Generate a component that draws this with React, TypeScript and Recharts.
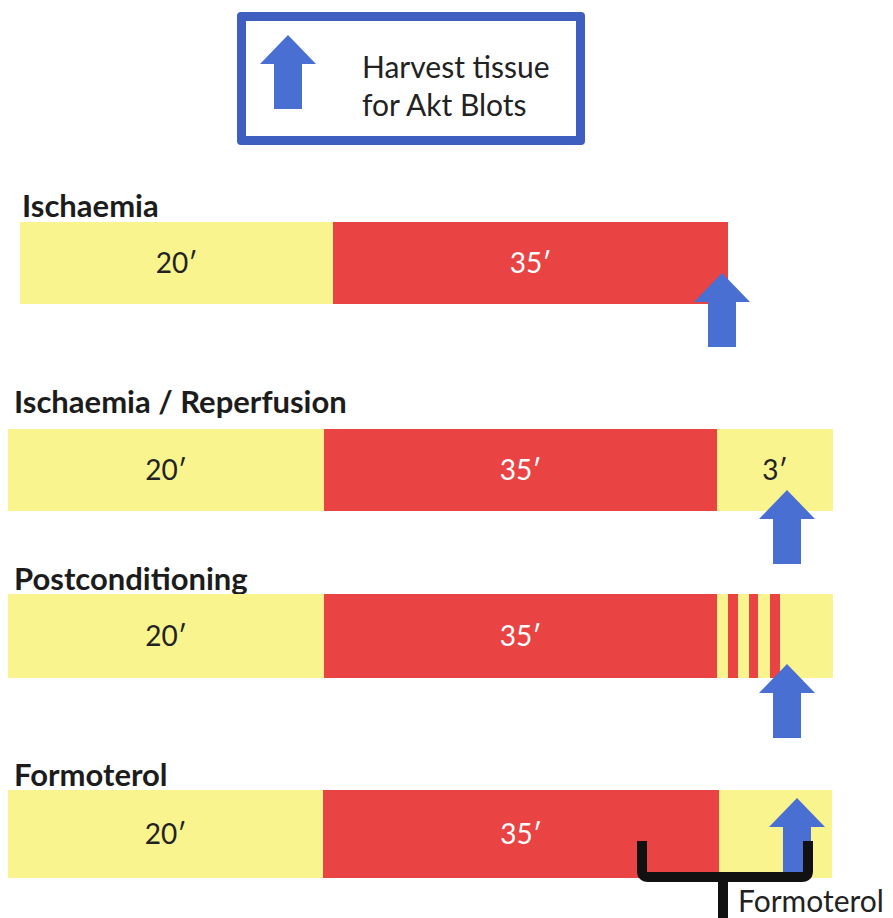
import React from 'react';
import { BarChart, Bar, XAxis, YAxis, ReferenceDot, ReferenceArea } from 'recharts';

// protocol timelines, in diagram units (the drawing is not to scale)
const protocols = ['Ischaemia', 'Ischaemia / Reperfusion', 'Postconditioning', 'Formoterol'];
const leadIn = [20, 8, 8, 8];
const stabilisation = [313, 316, 316, 315];
const ischaemia = [395, 393, 393, 396];
const reperfusionSteps = [[], [116], [11, 10, 11, 9, 12, 10, 53], [113]];
const stabLabels = ['20′', '20′', '20′', '20′'];
const ischLabels = ['35′', '35′', '35′', '35′'];
const reperfusionLabels = ['', '3′', '', ''];
const harvestAt = [722, 787, 787, 797];
const formoterolSpan = [637, 813];
const timelineEnd = 893;

const YELLOW = '#faf48e';
const RED = '#e94343';
const BLUE = '#4a6fd2';
const FONT = 'Lato, "Open Sans", sans-serif';
const PAD = 12;

// where each row sits on the page
const rowLayout = [
  { top: 222, barH: 82, below: 90, titleX: 22, titleBase: 217, arrowDy: 10 },
  { top: 429, barH: 82, below: 90, titleX: 14, titleBase: 413, arrowDy: 20 },
  { top: 594, barH: 84, below: 90, titleX: 14, titleBase: 590, arrowDy: 28 },
  { top: 790, barH: 88, below: 40, titleX: 14, titleBase: 786, arrowDy: -36 },
];

const arrowPoints = (cx: number, ty: number) =>
  [
    [cx, ty], [cx + 28, ty + 29], [cx + 14, ty + 29], [cx + 14, ty + 74],
    [cx - 14, ty + 74], [cx - 14, ty + 29], [cx - 28, ty + 29],
  ].map((p) => p.join(',')).join(' ');

const segment = (fill: string, label: string, color: string) => (props: any) => {
  const { x, y, width, height } = props;
  if (!width) return <g />;
  return (
    <g>
      <rect x={x} y={y} width={width} height={height} fill={fill} />
      {label ? (
        <text x={x + width / 2} y={y + height / 2 + 10} textAnchor="middle"
          fontFamily={FONT} fontSize={28} fill={color}>{label}</text>
      ) : null}
    </g>
  );
};

const Row = ({ i }: { i: number }) => {
  const lay = rowLayout[i];
  const row: any = { name: protocols[i], lead: leadIn[i], stab: stabilisation[i], isch: ischaemia[i] };
  reperfusionSteps[i].forEach((v, j) => { row['r' + j] = v; });
  const steps = reperfusionSteps[i];

  return (
    <>
      <div style={{
        position: 'absolute', left: lay.titleX, top: lay.titleBase - 0.987 * 31,
        fontFamily: FONT, fontWeight: 700, fontSize: 31, lineHeight: 'normal',
        color: '#1c1c1c', whiteSpace: 'nowrap',
      }}>{protocols[i]}</div>
      <div style={{ position: 'absolute', left: 0, top: lay.top - PAD }}>
        <BarChart width={893} height={lay.barH + 2 * PAD + lay.below} data={[row]} layout="vertical"
          barCategoryGap={0} barSize={lay.barH}
          margin={{ top: 0, right: 0, bottom: lay.below, left: 0 }}>
          <XAxis type="number" domain={[0, timelineEnd]} hide />
          <YAxis type="category" dataKey="name" hide />
          <Bar dataKey="lead" stackId="t" fill="none" isAnimationActive={false} />
          <Bar dataKey="stab" stackId="t" isAnimationActive={false}
            shape={segment(YELLOW, stabLabels[i], '#222')} />
          <Bar dataKey="isch" stackId="t" isAnimationActive={false}
            shape={segment(RED, ischLabels[i], '#fff')} />
          {steps.map((_, j) => (
            <Bar key={j} dataKey={'r' + j} stackId="t" isAnimationActive={false}
              shape={segment(j % 2 === 0 ? YELLOW : RED, j === 0 ? reperfusionLabels[i] : '', '#222')} />
          ))}
          <ReferenceDot x={harvestAt[i]} y={protocols[i]} ifOverflow="visible"
            shape={(p: any) => <polygon points={arrowPoints(p.cx, p.cy + lay.arrowDy)} fill={BLUE} />} />
          {i === 3 ? (
            <ReferenceArea x1={formoterolSpan[0]} x2={formoterolSpan[1]} ifOverflow="visible"
              fill="none" isFront zIndex={1000}
              shape={(p: any) => {
                const b = p.y + p.height - PAD - 1;
                const x1 = p.x + 5;
                const x2 = p.x + p.width - 5;
                const mid = p.x + p.width / 2 - 2;
                return (
                  <g>
                    <path d={`M${x1},${b - 36} V${b - 6} Q${x1},${b} ${x1 + 6},${b} H${x2 - 6} Q${x2},${b} ${x2},${b - 6} V${b - 36}`}
                      fill="none" stroke="#111" strokeWidth={10} />
                    <path d={`M${mid},${b} V${b + 45}`} stroke="#111" strokeWidth={10} />
                    <text x={mid + 15} y={b + 35} fontFamily={FONT} fontSize={30} fill="#222">Formoterol</text>
                  </g>
                );
              }} />
          ) : null}
        </BarChart>
      </div>
    </>
  );
};

export default function App() {
  return (
    <div style={{ position: 'absolute', left: 0, top: 0, width: 893, height: 918, background: '#fff', overflow: 'hidden' }}>
      <div style={{
        position: 'absolute', left: 237, top: 12, width: 348, height: 133, boxSizing: 'border-box',
        border: '9px solid #3f5fc0', borderRadius: 4, background: '#fff',
      }}>
        <svg width={80} height={115} style={{ position: 'absolute', left: 0, top: 0 }}>
          <polygon points={arrowPoints(42, 14)} fill={BLUE} />
        </svg>
        <div style={{
          position: 'absolute', left: 116, top: 26, fontFamily: FONT, fontSize: 30,
          lineHeight: '38px', color: '#222', whiteSpace: 'nowrap',
        }}>Harvest tissue<br />for Akt Blots</div>
      </div>
      {protocols.map((_, i) => <Row key={i} i={i} />)}
    </div>
  );
}
